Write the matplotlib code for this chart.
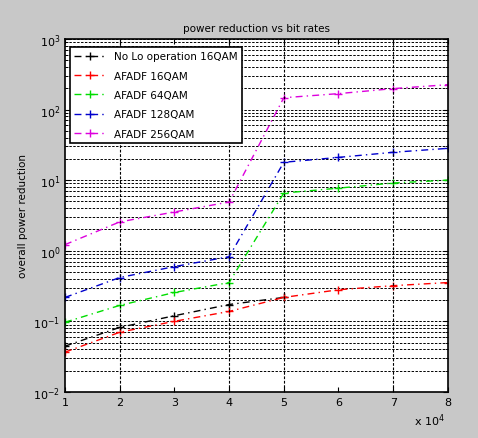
import numpy as np
import matplotlib
matplotlib.use('Agg')
import matplotlib.pyplot as plt

# data (x in units of 10^4)
x = [1, 2, 3, 4, 5, 6, 7, 8]
no_lo_16qam = [0.0445, 0.082, 0.12, 0.173, 0.218]
afadf_16qam = [0.0366, 0.070, 0.10, 0.138, 0.218, 0.28, 0.32, 0.354]
afadf_64qam = [0.097, 0.168, 0.256, 0.354, 6.56, 7.7, 9.1, 10.0]
afadf_128qam = [0.218, 0.417, 0.596, 0.823, 17.9, 21.0, 24.8, 28.2]
afadf_256qam = [1.22, 2.56, 3.54, 4.9, 147, 168, 198, 225]
labels = ['No Lo operation 16QAM', 'AFADF 16QAM', 'AFADF 64QAM',
          'AFADF 128QAM', 'AFADF 256QAM']
grid_x = [2, 4, 5, 7]

plt.rcParams['font.family'] = ['DejaVu Sans']
fig = plt.figure(figsize=(4.78, 4.39), dpi=100, facecolor='#c8c8c8')
ax = fig.add_axes([0.136, 0.105, 0.801, 0.804])
ax.set_facecolor('white')

series = [no_lo_16qam, afadf_16qam, afadf_64qam, afadf_128qam, afadf_256qam]
colors = ['black', 'red', '#00dd00', '#0000cc', '#dd00dd']
for ys, c, lab in zip(series, colors, labels):
    ax.plot(x[:len(ys)], ys, linestyle=(0, (5, 3, 1, 3)), color=c, marker='+',
            markersize=6, linewidth=1, label=lab)

ax.set_yscale('log')
ax.set_ylim(1e-2, 1e3)
ax.set_xlim(1, 8)
ax.set_xticks(x)

# horizontal grid (major and minor), vertical only where visible
ax.yaxis.grid(True, which='both', linestyle=(0, (2.5, 1.5)), color='black', linewidth=0.7)
for gx in grid_x:
    ax.axvline(gx, linestyle=(0, (2.5, 1.5)), color='black', linewidth=0.8)

ax.tick_params(which='both', direction='in', labelsize=8, top=True, right=True)
for s in ax.spines.values():
    s.set_linewidth(1.2)

ax.set_title('power reduction vs bit rates', fontsize=7.5)
ax.set_ylabel('overall power reduction', fontsize=7.5)
fig.text(0.93, 0.03, r'x 10$^4$', fontsize=8, ha='right')

leg = ax.legend(loc='upper left', bbox_to_anchor=(0.013, 0.977), borderaxespad=0,
                fontsize=7.5, fancybox=False, edgecolor='black', framealpha=1,
                labelspacing=0.9, handlelength=3)
leg.get_frame().set_linewidth(1.2)

fig.savefig('out.png', dpi=100, facecolor=fig.get_facecolor())
